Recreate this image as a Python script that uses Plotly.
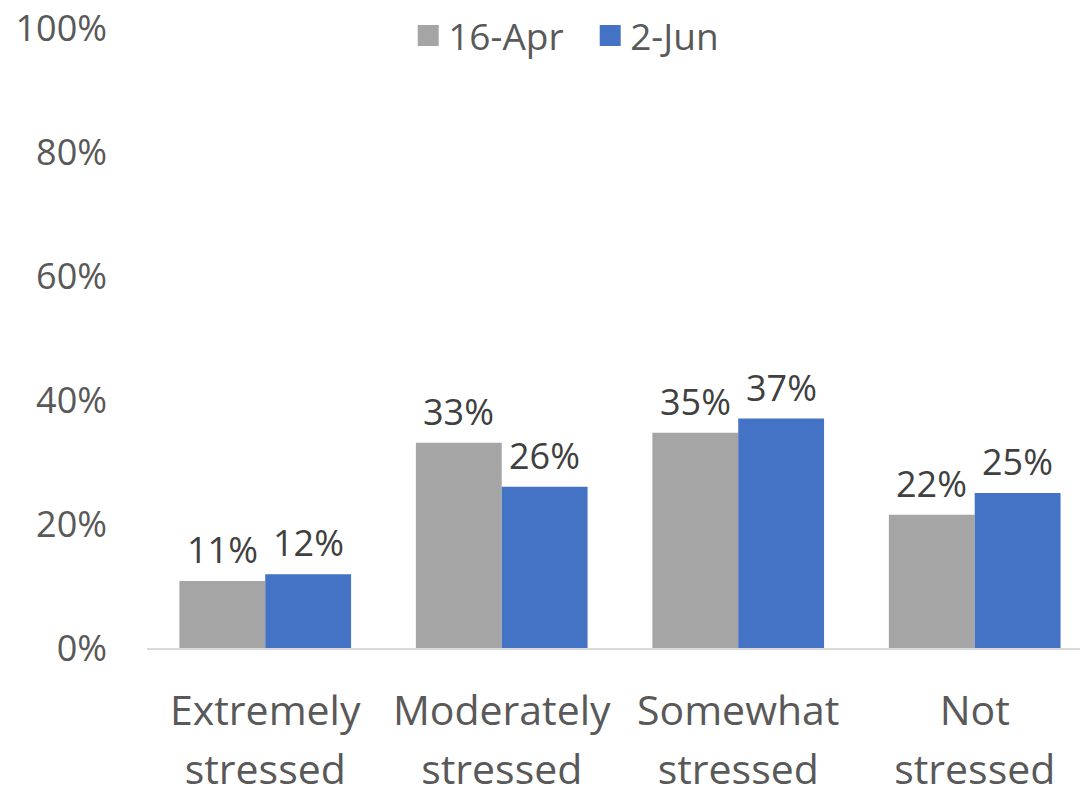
import plotly.graph_objects as go

categories_line1 = ["Extremely", "Moderately", "Somewhat", "Not"]
categories_line2 = ["stressed", "stressed", "stressed", "stressed"]
categories = [a + " " + b for a, b in zip(categories_line1, categories_line2)]
series_names = ["16-Apr", "2-Jun"]
apr_values = [0.108, 0.331, 0.347, 0.215]
jun_values = [0.119, 0.260, 0.370, 0.250]
apr_labels = ["11%", "33%", "35%", "22%"]
jun_labels = ["12%", "26%", "37%", "25%"]
y_tick_values = [0, 0.2, 0.4, 0.6, 0.8, 1.0]
y_tick_labels = ["0%", "20%", "40%", "60%", "80%", "100%"]

FONT = "Open Sans"
GRAY = "#A5A5A5"
BLUE = "#4472C4"
fig = go.Figure()
for name, vals, color in ((series_names[0], apr_values, GRAY), (series_names[1], jun_values, BLUE)):
    fig.add_trace(go.Bar(
        name=name, x=categories, y=vals, legendgroup=name, showlegend=False,
        marker=dict(color=color, line=dict(width=0)), hoverinfo="x+y",
    ))
# legend entries with larger square swatches (no data drawn); they live on the
# second x axis, which carries the second line of the category labels
for name, color in ((series_names[0], GRAY), (series_names[1], BLUE)):
    fig.add_trace(go.Scatter(
        name=name, x=[None], y=[None], mode="markers", legendgroup=name,
        xaxis="x2", yaxis="y",
        marker=dict(symbol="square", size=16, color=color, line=dict(width=5, color=color)),
        hoverinfo="skip",
    ))

# data labels above each bar
BAR_HALF = 43
annotations = []
for vals, labels, shift in ((apr_values, apr_labels, -BAR_HALF), (jun_values, jun_labels, BAR_HALF)):
    for c, v, t in zip(categories, vals, labels):
        annotations.append(dict(
            x=c, y=v, xref="x", yref="y", text=t, showarrow=False,
            xanchor="center", yanchor="bottom", xshift=shift, yshift=5,
            font=dict(family=FONT, size=36, color="#404040"),
        ))

idx = list(range(len(categories)))
# the page body adds an 8px offset, so the figure is 8px smaller than the window
fig.update_layout(
    width=1080, height=781,
    margin=dict(l=139, r=0, t=20, b=141, autoexpand=False),
    paper_bgcolor="white", plot_bgcolor="white",
    barmode="group", bargap=0.274, bargroupgap=0,
    font=dict(family=FONT, size=36, color="#595959"),
    showlegend=True,
    legend=dict(orientation="h", xref="paper", yref="paper",
                x=0.471, y=0.987, xanchor="center", yanchor="middle",
                font=dict(family=FONT, size=37, color="#595959"),
                itemwidth=30, itemsizing="trace", traceorder="normal",
                entrywidth=137, bgcolor="rgba(0,0,0,0)"),
    annotations=annotations,
    xaxis=dict(type="category", range=[-0.5, 3.479], showgrid=False,
               showline=True, linecolor="#D9D9D9", linewidth=2,
               ticks="", tickmode="array", tickvals=categories,
               ticktext=categories_line1, ticklabelstandoff=26,
               tickfont=dict(family=FONT, size=41, color="#595959"),
               zeroline=False, fixedrange=True, automargin=False),
    xaxis2=dict(overlaying="x", anchor="y", side="bottom", type="linear",
                range=[-0.5, 3.479], autorange=False, showgrid=False, showline=False,
                ticks="", tickmode="array", tickvals=idx,
                ticktext=categories_line2, ticklabelstandoff=94,
                ticklabeloverflow="allow",
                tickfont=dict(family=FONT, size=41, color="#595959"),
                zeroline=False, fixedrange=True, automargin=False),
    yaxis=dict(range=[0, 1], showgrid=False, showline=False, zeroline=False,
               ticks="", tickmode="array", tickvals=y_tick_values,
               ticktext=y_tick_labels, ticklabelstandoff=39,
               ticklabeloverflow="allow",
               tickfont=dict(family=FONT, size=36, color="#595959"),
               fixedrange=True, automargin=False),
)

fig.write_html("out.html")
